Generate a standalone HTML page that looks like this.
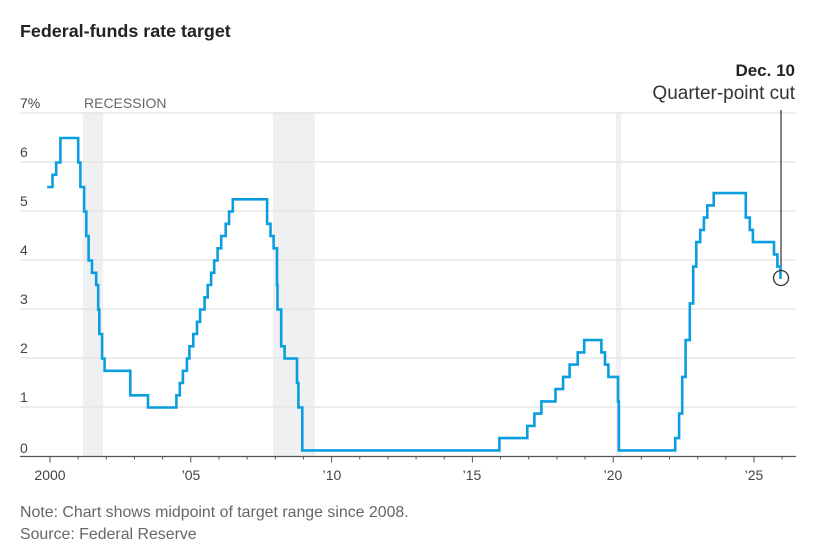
<!DOCTYPE html>
<html><head><meta charset="utf-8"><style>
body{margin:0;background:#fff;width:836px;height:553px;overflow:hidden;font-family:"Liberation Sans",sans-serif}
</style></head><body>
<svg id="s" width="836" height="553" xmlns="http://www.w3.org/2000/svg" font-family="Liberation Sans, sans-serif">
<text x="20" y="37" font-size="17.9" font-weight="bold" fill="#222">Federal-funds rate target</text>
<rect x="83" y="112" width="20" height="344" fill="#eff0f2"/>
<rect x="273" y="112" width="42" height="344" fill="#eff0f2"/>
<rect x="616" y="112" width="5" height="344" fill="#eff0f2"/>
<g stroke="#e2e2e2" stroke-width="1.2">
<line x1="20" x2="796" y1="113" y2="113"/><line x1="20" x2="796" y1="162" y2="162"/>
<line x1="20" x2="796" y1="211" y2="211"/><line x1="20" x2="796" y1="260" y2="260"/>
<line x1="20" x2="796" y1="309" y2="309"/><line x1="20" x2="796" y1="358" y2="358"/>
<line x1="20" x2="796" y1="407" y2="407"/>
</g>
<line x1="20" x2="796" y1="456.5" y2="456.5" stroke="#555" stroke-width="1.3"/>
<g id="ticks" stroke="#555" stroke-width="1"></g>
<g font-size="14" fill="#444">
<text x="20" y="108">7%</text><text x="20" y="157">6</text><text x="20" y="206">5</text>
<text x="20" y="255">4</text><text x="20" y="304">3</text><text x="20" y="353">2</text>
<text x="20" y="402">1</text><text x="20" y="453">0</text>
<text x="84" y="108" font-size="14" fill="#666">RECESSION</text>
</g>
<g font-size="14" fill="#444" text-anchor="middle">
<text x="50" y="480">2000</text><text x="191" y="480">’05</text><text x="332" y="480">’10</text>
<text x="472" y="480">’15</text><text x="613" y="480">’20</text><text x="754" y="480">’25</text>
</g>
<line x1="781" y1="110" x2="781" y2="271" stroke="#333" stroke-width="1.2"/>
<path id="p" fill="none" stroke="#0a9ee0" stroke-width="2.6" stroke-linejoin="miter"/>
<circle cx="781" cy="278" r="7.5" fill="none" stroke="#333" stroke-width="1.3"/>
<text x="795" y="76" font-size="17" font-weight="bold" fill="#222" text-anchor="end">Dec. 10</text>
<text x="795" y="99" font-size="19" fill="#333" text-anchor="end">Quarter-point cut</text>
<text x="20" y="517" font-size="15.9" fill="#666">Note: Chart shows midpoint of target range since 2008.</text>
<text x="20" y="539" font-size="15.9" fill="#666">Source: Federal Reserve</text>
</svg>
<script>
var X=function(t){return 50+28.16*(t-2000)},Y=function(v){return 456.5-49*v};
var d=[[1999.9,5.5],[2000.09,5.75],[2000.22,6],[2000.37,6.5],[2001.0,6],[2001.08,5.5],[2001.21,5],[2001.29,4.5],[2001.37,4],[2001.49,3.75],[2001.64,3.5],[2001.71,3],[2001.75,2.5],[2001.85,2],[2001.94,1.75],
[2002.85,1.25],[2003.48,1],[2004.49,1.25],[2004.61,1.5],[2004.72,1.75],[2004.86,2],[2004.95,2.25],[2005.09,2.5],[2005.22,2.75],[2005.33,3],[2005.49,3.25],[2005.6,3.5],[2005.72,3.75],[2005.83,4],[2005.95,4.25],
[2006.08,4.5],[2006.24,4.75],[2006.36,5],[2006.49,5.25],[2007.71,4.75],[2007.83,4.5],[2007.94,4.25],[2008.06,3.5],[2008.08,3],[2008.21,2.25],[2008.33,2],[2008.77,1.5],[2008.82,1],[2008.96,0.125],
[2015.96,0.375],[2016.95,0.625],[2017.2,0.875],[2017.45,1.125],[2017.95,1.375],[2018.22,1.625],[2018.45,1.875],[2018.74,2.125],[2018.97,2.375],[2019.58,2.125],[2019.71,1.875],[2019.83,1.625],[2020.17,1.125],[2020.2,0.125],
[2022.2,0.375],[2022.34,0.875],[2022.45,1.625],[2022.57,2.375],[2022.72,3.125],[2022.84,3.875],[2022.95,4.375],[2023.09,4.625],[2023.22,4.875],[2023.34,5.125],[2023.57,5.375],[2024.71,4.875],[2024.85,4.625],[2024.96,4.375],
[2025.71,4.125],[2025.83,3.875],[2025.94,3.625]];
var s="M"+X(d[0][0]).toFixed(1)+","+Y(d[0][1]).toFixed(1);
for(var i=1;i<d.length;i++){s+="H"+X(d[i][0]).toFixed(1)+"V"+Y(d[i][1]).toFixed(1);}
document.getElementById("p").setAttribute("d",s);
var g=document.getElementById("ticks"),h="";
for(var y=2000;y<=2026;y++){var x=X(y),L=(y%5==0)?6:3;h+='<line x1="'+x+'" x2="'+x+'" y1="456.5" y2="'+(456.5+L)+'"/>';}
g.innerHTML=h;
</script>
</body></html>
